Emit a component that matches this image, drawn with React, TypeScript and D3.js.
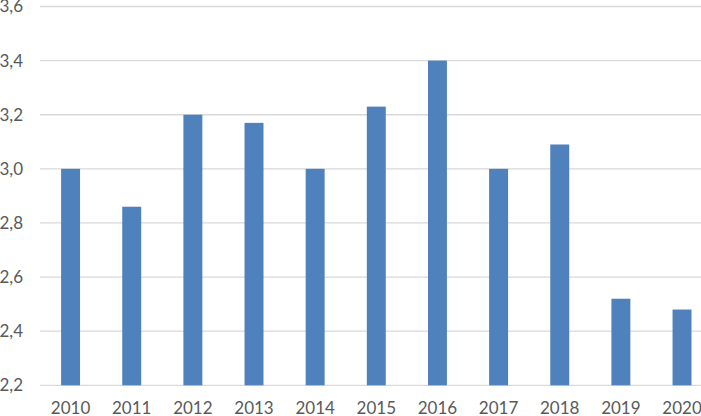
import React from "react";
import * as d3 from "d3";

const years = ["2010", "2011", "2012", "2013", "2014", "2015", "2016", "2017", "2018", "2019", "2020"];
const values = [3.0, 2.86, 3.2, 3.17, 3.0, 3.23, 3.4, 3.0, 3.09, 2.52, 2.48];
const yTicks = [2.2, 2.4, 2.6, 2.8, 3.0, 3.2, 3.4, 3.6];

const W = 701;
const H = 416;

export default function App() {
  const x = d3.scaleBand<string>().domain(years).range([40, 712.6]).paddingInner(0.69).paddingOuter(0.345);
  const y = d3.scaleLinear().domain([2.2, 3.6]).range([385.3, 6.5]);
  const fmt = (v: number) => d3.format(".1f")(v).replace(".", ",");
  const font = "Lato, 'Noto Sans', sans-serif";
  return (
    <svg width={W} height={H} style={{ position: "fixed", left: 0, top: 0, background: "#fff" }}>
      <rect x={0} y={0} width={W} height={H} fill="#fff" />
      {yTicks.map((t) => (
        <g key={t}>
          <line x1={40} x2={W} y1={y(t)} y2={y(t)} stroke="#d9d9d9" strokeWidth={1.3} />
          <text x={23} y={y(t)} dy="0.35em" textAnchor="end" fontFamily={font} fontSize={17} fill="#595959">
            {fmt(t)}
          </text>
        </g>
      ))}
      {years.map((yr, i) => (
        <rect key={yr} x={x(yr)} y={y(values[i])} width={x.bandwidth()} height={y(2.2) - y(values[i])} fill="#4f81bd" />
      ))}
      {years.map((yr) => (
        <text key={yr} x={(x(yr) as number) + x.bandwidth() / 2} y={414} textAnchor="middle" fontFamily={font} fontSize={17} fill="#595959">
          {yr}
        </text>
      ))}
    </svg>
  );
}
